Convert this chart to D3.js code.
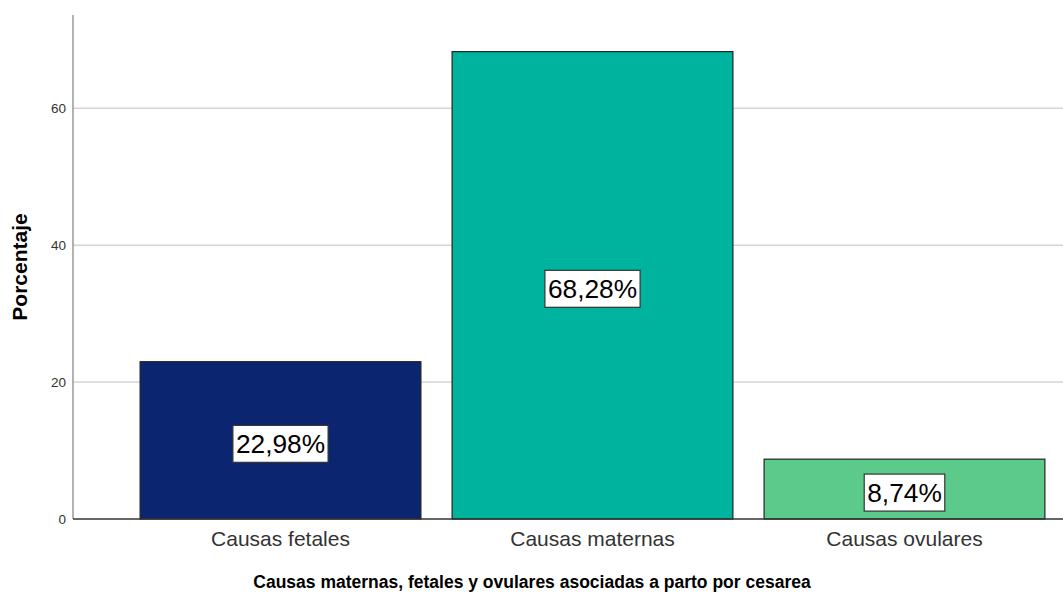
<!DOCTYPE html>
<html><head><meta charset="utf-8">
<script src="https://cdn.jsdelivr.net/npm/d3@7"></script>
<style>body{margin:0;background:#fff}svg{display:block}text{font-family:"Liberation Sans",Arial,sans-serif}</style>
</head><body><svg id="c" width="1063" height="594"></svg>
<script>
const categories = ["Causas fetales","Causas maternas","Causas ovulares"];
const values = [22.98, 68.28, 8.74];
const labels = ["22,98%","68,28%","8,74%"];
const colors = ["#0b2570","#00b39f","#5cca8b"];
const yTicks = [0,20,40,60];
const xTitle = "Causas maternas, fetales y ovulares asociadas a parto por cesarea";
const yTitle = "Porcentaje";

const svg = d3.select("#c");
const x0 = 73, x1 = 1063, yBase = 519;
const y = d3.scaleLinear().domain([0,60]).range([yBase,108.3]);
const x = d3.scaleBand().domain(categories).range([124.5,1060.5]).paddingInner(0.1).paddingOuter(0.05);

// gridlines
svg.append("g").selectAll("line").data(yTicks.filter(d=>d>0)).join("line")
  .attr("x1",x0).attr("x2",x1).attr("y1",d=>y(d)).attr("y2",d=>y(d))
  .attr("stroke","#d4d4d4").attr("stroke-width",1.5);

// bars
svg.append("g").selectAll("rect").data(values).join("rect")
  .attr("x",(d,i)=>x(categories[i])).attr("width",x.bandwidth())
  .attr("y",d=>y(d)).attr("height",d=>yBase-y(d))
  .attr("fill",(d,i)=>colors[i]).attr("stroke","#222").attr("stroke-width",1.2);

// y axis
const ya = d3.axisLeft(y).tickValues(yTicks).tickSize(0).tickPadding(7).tickFormat(d3.format("d"));
const gy = svg.append("g").attr("transform",`translate(${x0},0)`).call(ya);
gy.select(".domain").remove();
gy.selectAll("text").attr("font-size",13.5).attr("fill","#333").style("font-family","Liberation Sans, Arial");
svg.append("line").attr("x1",x0).attr("x2",x0).attr("y1",15).attr("y2",yBase).attr("stroke","#999").attr("stroke-width",1.5);
// x axis
const xa = d3.axisBottom(x).tickSize(0).tickPadding(12);
const gx = svg.append("g").attr("transform",`translate(0,${yBase})`).call(xa);
gx.select(".domain").remove();
gx.selectAll("text").attr("font-size",21).attr("fill","#333").style("font-family","Liberation Sans, Arial");
svg.append("line").attr("x1",x0).attr("x2",x1).attr("y1",yBase).attr("y2",yBase).attr("stroke","#333").attr("stroke-width",1.3);

// value labels
const lg = svg.append("g").selectAll("g").data(values).join("g")
  .attr("transform",(d,i)=>`translate(${x(categories[i])+x.bandwidth()/2},${(y(d)+yBase)/2+3.5})`);
lg.each(function(d,i){
  const g = d3.select(this);
  const t = g.append("text").text(labels[i]).attr("text-anchor","middle").attr("dy","0.35em")
    .attr("font-size",26.3).attr("fill","#000");
  const bb = t.node().getBBox();
  g.insert("rect","text").attr("x",bb.x-3).attr("y",-18.5).attr("width",bb.width+6).attr("height",37)
    .attr("fill","#fff").attr("stroke","#333").attr("stroke-width",1.2);
});

svg.append("text").attr("x",532).attr("y",588).attr("text-anchor","middle")
  .attr("font-size",17.5).attr("font-weight","bold").attr("fill","#000").text(xTitle);
svg.append("text").attr("transform","translate(26.5,267) rotate(-90)").attr("text-anchor","middle")
  .attr("font-size",21).attr("font-weight","bold").attr("fill","#000").text(yTitle);
</script></body></html>
